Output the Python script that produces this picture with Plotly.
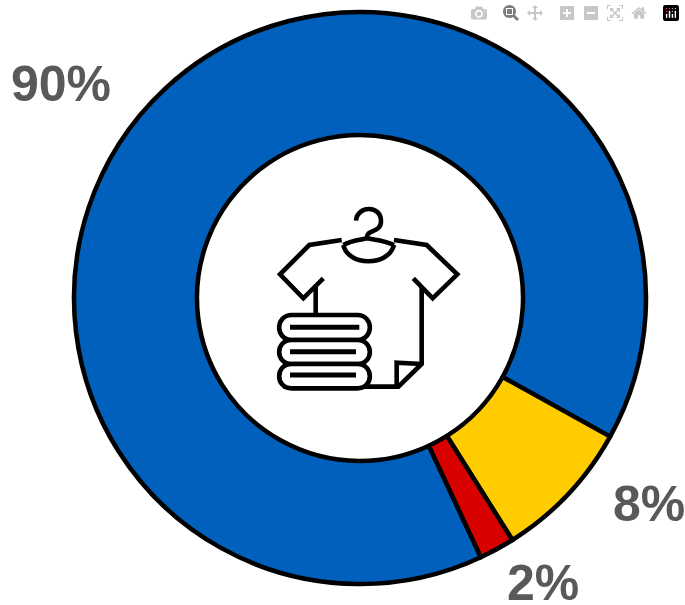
import plotly.graph_objects as go

labels = ["Blue", "Yellow", "Red"]
values = [90, 8, 2]
colors = ["#0060BC", "#FFCC00", "#D90000"]
W, H = 685, 605
CX, CY, R = 360, 298, 286

fig = go.Figure()
fig.add_trace(go.Scatter(x=[], y=[], showlegend=False))
fig.add_trace(go.Pie(
    labels=labels, values=values, hole=0.57, sort=False, direction="clockwise",
    rotation=155, textinfo="none", hoverinfo="label+percent", showlegend=False,
    marker=dict(colors=colors, line=dict(color="black", width=4.5)),
    domain=dict(x=[(CX-R)/W, (CX+R)/W], y=[1-(CY+R)/H, 1-(CY-R)/H]),
))

label_pos = [(61, 84), (649, 504), (543, 583)]
for v, (x, y) in zip(values, label_pos):
    fig.add_annotation(x=x, y=y, xref="x", yref="y", text=f"<b>{v}%</b>", showarrow=False,
                       font=dict(family="Liberation Sans", size=50, color="#595959"))

def Z(s):
    # icon outline written in a 3x local grid, placed at (250,190)
    out = []
    for tok in s.split():
        if "," in tok:
            a, b = tok.split(",")
            out.append(f"{250+float(a)/3:.2f},{190+float(b)/3:.2f}")
        else:
            out.append(tok)
    return " ".join(out)

def add(path, fill=None, width=4.6):
    fig.add_shape(type="path", xref="x", yref="y", path=Z(path),
                  line=dict(color="black", width=width),
                  fillcolor=fill if fill else "rgba(0,0,0,0)", layer="above")

icon = [
    # shirt
    "M 275,150 L 178,165 L 90,253 L 160,325 L 220,265",
    "M 197,290 L 197,372",
    "M 432,150 L 530,165 L 622,253 L 548,325 L 490,265",
    "M 515,290 L 515,522 L 445,590 L 100,590",
    "M 440,590 L 440,518 L 515,522",
    # collar
    "M 280,165 C 295,230 415,230 432,165",
    "M 280,165 C 305,150 330,150 352,145 C 375,150 400,150 432,165",
    # hanger
    "M 318,92 C 322,45 395,45 393,95 C 392,130 350,115 350,145",
]
for p in icon:
    add(p)
for top, bot in [(375, 450), (450, 522), (522, 595)]:
    add(f"M 125,{top} L 322,{top} C 372,{top} 372,{bot} 322,{bot} L 125,{bot} C 75,{bot} 75,{top} 125,{top} Z", fill="white")
for y, x2 in [(412, 328), (485, 318), (555, 318)]:
    add(f"M 120,{y} L {x2},{y}", width=5)

fig.update_layout(
    width=W, height=H, margin=dict(l=0, r=0, t=0, b=0),
    paper_bgcolor="white", plot_bgcolor="rgba(0,0,0,0)",
    xaxis=dict(range=[0, W], visible=False, domain=[0, 1]),
    yaxis=dict(range=[H, 0], visible=False, domain=[0, 1]),
)
fig.write_html("out.html", post_script="document.body.style.margin='0';document.documentElement.style.overflow='hidden';")
